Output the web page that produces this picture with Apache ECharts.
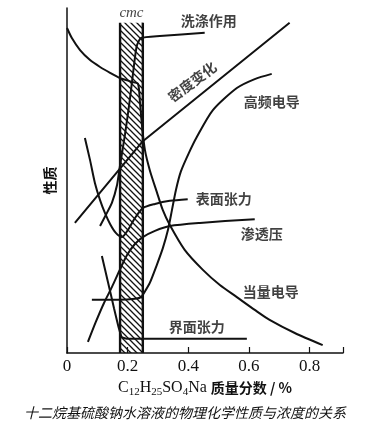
<!DOCTYPE html>
<html><head><meta charset="utf-8">
<script src="https://cdn.jsdelivr.net/npm/echarts@6/dist/echarts.min.js"></script>
<style>html,body{margin:0;padding:0;background:#fff}#c{width:370px;height:426px}</style>
</head><body><div id="c"></div>
<script>
// ---- data (x: mass fraction %, y: property, arbitrary 0-100) ----
const xTickLabels = ['0', '0.2', '0.4', '0.6', '0.8'];
const cmcRange = [0.175, 0.25];
const cmcTop = 95.7;

const equivCondX = [0, 0.016, 0.043, 0.076, 0.109, 0.142, 0.174, 0.214, 0.234, 0.240, 0.247, 0.257, 0.273, 0.296, 0.316, 0.339, 0.388, 0.448, 0.504, 0.560, 0.619, 0.668, 0.751, 0.843];
const equivCondY = [94.2, 91.3, 87.8, 84.9, 82.9, 81.2, 79.7, 78.6, 78.0, 73.3, 66.1, 58.8, 53.0, 46.7, 41.4, 37.1, 29.9, 24.1, 19.7, 16.2, 12.5, 9.6, 5.8, 2.3];

const hfCondX = [0.082, 0.174, 0.224, 0.244, 0.260, 0.273, 0.296, 0.316, 0.333, 0.346, 0.359, 0.375, 0.402, 0.428, 0.481, 0.560, 0.619, 0.675];
const hfCondY = [15.4, 15.4, 15.7, 16.2, 18.3, 20.3, 25.5, 30.4, 35.7, 41.4, 47.2, 52.5, 58.0, 62.6, 70.4, 76.8, 79.4, 80.9];

const detergX = [0.109, 0.128, 0.148, 0.165, 0.174, 0.191, 0.207, 0.221, 0.230, 0.244, 0.306, 0.454];
const detergY = [36.8, 40.0, 43.5, 48.7, 53.9, 63.2, 73.3, 83.5, 89.0, 91.3, 91.9, 92.8];

const surfTenX = [0.059, 0.076, 0.092, 0.109, 0.125, 0.142, 0.161, 0.181, 0.201, 0.224, 0.250, 0.290, 0.339, 0.398];
const surfTenY = [62.3, 55.9, 49.3, 44.3, 40.6, 37.4, 34.8, 33.6, 35.7, 39.1, 42.0, 43.2, 44.1, 44.6];

const osmoX = [0.069, 0.095, 0.122, 0.148, 0.174, 0.198, 0.224, 0.250, 0.290, 0.339, 0.438, 0.619];
const osmoY = [3.2, 9.0, 14.5, 19.1, 24.1, 28.4, 31.6, 33.6, 35.4, 36.8, 37.7, 38.8];

const interTenX = [0.115, 0.135, 0.155, 0.171, 0.181, 0.201, 0.593];
const interTenY = [28.1, 20.6, 13.0, 7.2, 4.6, 4.1, 4.1];

const densityX = [0.026, 0.250, 0.734];
const densityY = [37.7, 61.4, 95.7];

// ---- chart ----
const zip = (a, b) => a.map((v, i) => [v, b[i]]);
const INK = '#111';
const cjk = '"Noto Sans CJK SC", sans-serif';
const serif = '"Liberation Serif", serif';

const pc = document.createElement('canvas');
pc.width = 6; pc.height = 6;
const g = pc.getContext('2d');
g.strokeStyle = INK; g.lineWidth = 1.3;
g.beginPath();
g.moveTo(-1, -1); g.lineTo(7, 7);
g.moveTo(-1, 5); g.lineTo(1, 7);
g.moveTo(5, -1); g.lineTo(7, 1);
g.stroke();

function curve(name, xs, ys, smooth) {
  return {
    name, type: 'line', data: zip(xs, ys), showSymbol: false, symbol: 'none',
    smooth: smooth, z: 5,
    lineStyle: { color: INK, width: 2 }, silent: true
  };
}
function edge(x) {
  return { type: 'line', data: [[x, 0], [x, cmcTop]], showSymbol: false, symbol: 'none',
    lineStyle: { color: INK, width: 2.4 }, z: 4, silent: true };
}

const labelStyle = { fontFamily: cjk, fontSize: 14, fontWeight: 'bold', color: INK };
const annotations = [
  { value: [0.467, 96.2], text: '洗涤作用', rot: 0 },
  { value: [0.413, 78.6], text: '密度变化', rot: 37 },
  { value: [0.675, 72.8], text: '高频电导', rot: 0 },
  { value: [0.517, 44.6], text: '表面张力', rot: 0 },
  { value: [0.642, 34.5], text: '渗透压', rot: 0 },
  { value: [0.672, 17.7], text: '当量电导', rot: 0 },
  { value: [0.428, 7.5], text: '界面张力', rot: 0 }
];

const chart = echarts.init(document.getElementById('c'), null, { renderer: 'canvas' });
chart.setOption({
  animation: false,
  backgroundColor: '#fff',
  title: {
    text: '十二烷基硫酸钠水溶液的物理化学性质与浓度的关系',
    left: 'center', bottom: 6, padding: 0,
    textStyle: { fontFamily: cjk, fontSize: 14, fontStyle: 'italic', fontWeight: 'normal', color: INK }
  },
  grid: { left: 67, right: 27, top: 8, bottom: 73 },
  xAxis: {
    type: 'value', min: 0, max: 0.91, interval: 0.2,
    axisLine: { lineStyle: { color: INK, width: 1.5 } },
    axisTick: { inside: true, length: 6, lineStyle: { color: INK, width: 1.2 } },
    splitLine: { show: false },
    axisLabel: {
      margin: 5, fontFamily: serif, fontSize: 17, color: INK,
      formatter: v => xTickLabels[Math.round(v / 0.2)] || ''
    },
    name: '{n|C}{s|12}{n|H}{s|25}{n|SO}{s|4}{n|Na }{c|质量分数 / %}',
    nameLocation: 'middle', nameGap: 23,
    nameTextStyle: {
      rich: {
        n: { fontFamily: serif, fontSize: 16, color: INK, lineHeight: 20 },
        s: { fontFamily: serif, fontSize: 11, color: INK, lineHeight: 10, verticalAlign: 'bottom' },
        c: { fontFamily: cjk, fontSize: 14, fontWeight: 'bold', color: INK, lineHeight: 20 }
      }
    }
  },
  yAxis: {
    type: 'value', min: 0, max: 100,
    axisLine: { show: true, lineStyle: { color: INK, width: 1.5 } },
    axisTick: { show: false }, axisLabel: { show: false }, splitLine: { show: false },
    name: '性质', nameLocation: 'middle', nameGap: 10, nameRotate: 90,
    nameTextStyle: { fontFamily: cjk, fontSize: 14, fontWeight: 'bold', color: INK }
  },
  series: [
    {
      type: 'line', data: [], silent: true,
      markArea: {
        silent: true,
        itemStyle: { color: { image: pc, repeat: 'repeat' }, borderWidth: 0 },
        data: [[{ xAxis: cmcRange[0], yAxis: 0 }, { xAxis: cmcRange[1], yAxis: cmcTop }]]
      }
    },
    edge(cmcRange[0]), edge(cmcRange[1]),
    curve('当量电导', equivCondX, equivCondY, 0.25),
    curve('高频电导', hfCondX, hfCondY, 0.25),
    curve('洗涤作用', detergX, detergY, 0.2),
    curve('表面张力', surfTenX, surfTenY, 0.25),
    curve('渗透压', osmoX, osmoY, 0.25),
    curve('界面张力', interTenX, interTenY, 0.15),
    curve('密度变化', densityX, densityY, false),
    {
      type: 'scatter', symbolSize: 0, silent: true, z: 10,
      data: annotations.map(a => ({
        value: a.value,
        label: { show: true, position: 'inside', formatter: a.text, rotate: a.rot, ...labelStyle }
      }))
    },
    {
      type: 'scatter', symbolSize: 0, silent: true, z: 10,
      data: [{ value: [(cmcRange[0] + cmcRange[1]) / 2, 98.6],
        label: { show: true, position: 'inside', formatter: 'cmc',
          fontFamily: serif, fontStyle: 'italic', fontSize: 15, color: INK } }]
    }
  ]
});
</script></body></html>
